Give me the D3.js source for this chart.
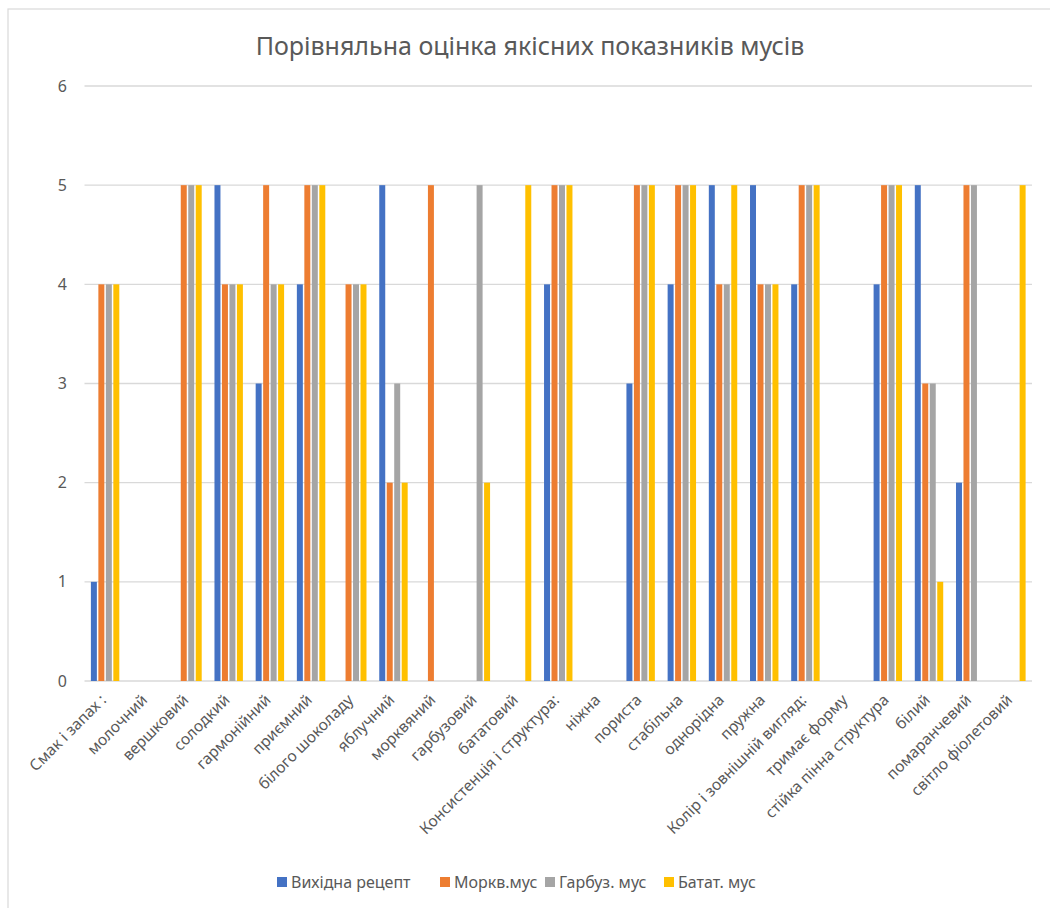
<!DOCTYPE html>
<html>
<head>
<meta charset="utf-8">
<script src="https://cdn.jsdelivr.net/npm/d3@7"></script>
<style>
  html, body { margin: 0; padding: 0; background: #fff; }
  svg { display: block; font-family: "Noto Sans", "Open Sans", sans-serif; }
</style>
</head>
<body>
<svg id="chart" width="1050" height="908"></svg>
<script>
// Quality indicators (x-axis categories)
const categories = [
  "Смак і запах :", "молочний", "вершковий", "солодкий", "гармонійний", "приємний",
  "білого шоколаду", "яблучний", "морквяний", "гарбузовий", "бататовий",
  "Консистенція і структура:", "ніжна", "пориста", "стабільна", "однорідна", "пружна",
  "Колір і зовнішній вигляд:", "тримає форму", "стійка пінна структура",
  "білий", "помаранчевий", "світло фіолетовий"
];

const seriesNames = ["Вихідна рецепт", "Моркв.мус", "Гарбуз. мус", "Батат. мус"];

// Scores per series (null = no score given)
const baseRecipe = [1, null, null, 5, 3, 4, null, 5, null, null, null, 4, null, 3, 4, 5, 5, 4, null, 4, 5, 2, null];
const carrotMousse = [4, null, 5, 4, 5, 5, 4, 2, 5, null, null, 5, null, 5, 5, 4, 4, 5, null, 5, 3, 5, null];
const pumpkinMousse = [4, null, 5, 4, 4, 5, 4, 3, null, 5, null, 5, null, 5, 5, 4, 4, 5, null, 5, 3, 5, null];
const sweetPotatoMousse = [4, null, 5, 4, 4, 5, 4, 2, null, 2, 5, 5, null, 5, 5, 5, 4, 5, null, 5, 1, null, 5];

const yTicks = [0, 1, 2, 3, 4, 5, 6];
const colors = ["#4472C4", "#ED7D31", "#A5A5A5", "#FFC000"];

const seriesValues = [baseRecipe, carrotMousse, pumpkinMousse, sweetPotatoMousse];

const svg = d3.select("#chart");

// Outer frame
svg.append("rect")
  .attr("x", 8).attr("y", 9).attr("width", 1060).attr("height", 920)
  .attr("fill", "none").attr("stroke", "#d9d9d9").attr("stroke-width", 1.2);

const margin = { left: 84.5, right: 1032, top: 86, bottom: 681 };

const x0 = d3.scaleBand()
  .domain(categories)
  .range([margin.left, margin.right])
  .paddingInner(0.31)
  .paddingOuter(0.155);

const x1 = d3.scaleBand()
  .domain(seriesNames)
  .range([0, x0.bandwidth()])
  .paddingInner(0.2);

const y = d3.scaleLinear().domain([0, 6]).range([margin.bottom, margin.top]);

// Gridlines
svg.append("g")
  .selectAll("line")
  .data(yTicks)
  .join("line")
  .attr("x1", margin.left).attr("x2", margin.right)
  .attr("y1", d => y(d)).attr("y2", d => y(d))
  .attr("stroke", "#d9d9d9").attr("stroke-width", 1.3);

// Y axis labels
const yAxis = d3.axisLeft(y).tickValues(yTicks).tickFormat(d3.format("d")).tickSize(0).tickPadding(0);
svg.append("g")
  .attr("transform", `translate(${67},0)`)
  .call(yAxis)
  .call(g => g.select(".domain").remove())
  .call(g => g.selectAll("text")
    .attr("font-size", 16)
    .attr("font-family", "\"Noto Sans\", sans-serif")
    .attr("fill", "#595959"));

// Bars
const rows = categories.map((c, i) => ({ cat: c, vals: seriesNames.map((s, k) => ({ s, k, v: seriesValues[k][i] })) }));

svg.append("g")
  .selectAll("g")
  .data(rows)
  .join("g")
  .attr("transform", d => `translate(${x0(d.cat)},0)`)
  .selectAll("rect")
  .data(d => d.vals.filter(e => e.v !== null))
  .join("rect")
  .attr("x", d => x1(d.s))
  .attr("width", x1.bandwidth())
  .attr("y", d => y(d.v))
  .attr("height", d => y(0) - y(d.v))
  .attr("fill", d => colors[d.k]);

// X axis category labels, rotated
const xAxis = d3.axisBottom(x0).tickSize(0).tickPadding(0);
svg.append("g")
  .attr("transform", `translate(0,${margin.bottom})`)
  .call(xAxis)
  .call(g => g.select(".domain").remove())
  .call(g => g.selectAll("text")
    .attr("font-size", 15.5)
    .attr("font-family", "\"Noto Sans\", sans-serif")
    .attr("fill", "#595959")
    .attr("text-anchor", "end")
    .attr("dy", 0)
    .attr("transform", "translate(2,20) rotate(-45)"));

// Title
svg.append("text")
  .attr("x", 530).attr("y", 55)
  .attr("text-anchor", "middle")
  .attr("font-size", 25)
  .attr("fill", "#595959")
  .text("Порівняльна оцінка якісних показників мусів");

// Legend
const legendX = [277, 440, 545, 664];
const legend = svg.append("g")
  .selectAll("g")
  .data(seriesNames)
  .join("g")
  .attr("transform", (d, i) => `translate(${legendX[i]},882)`);
legend.append("rect")
  .attr("x", 0).attr("y", -5).attr("width", 10).attr("height", 10)
  .attr("fill", (d, i) => colors[i]);
legend.append("text")
  .attr("x", 14).attr("y", 6)
  .attr("font-size", 16)
  .attr("fill", "#595959")
  .text(d => d);
</script>
</body>
</html>
